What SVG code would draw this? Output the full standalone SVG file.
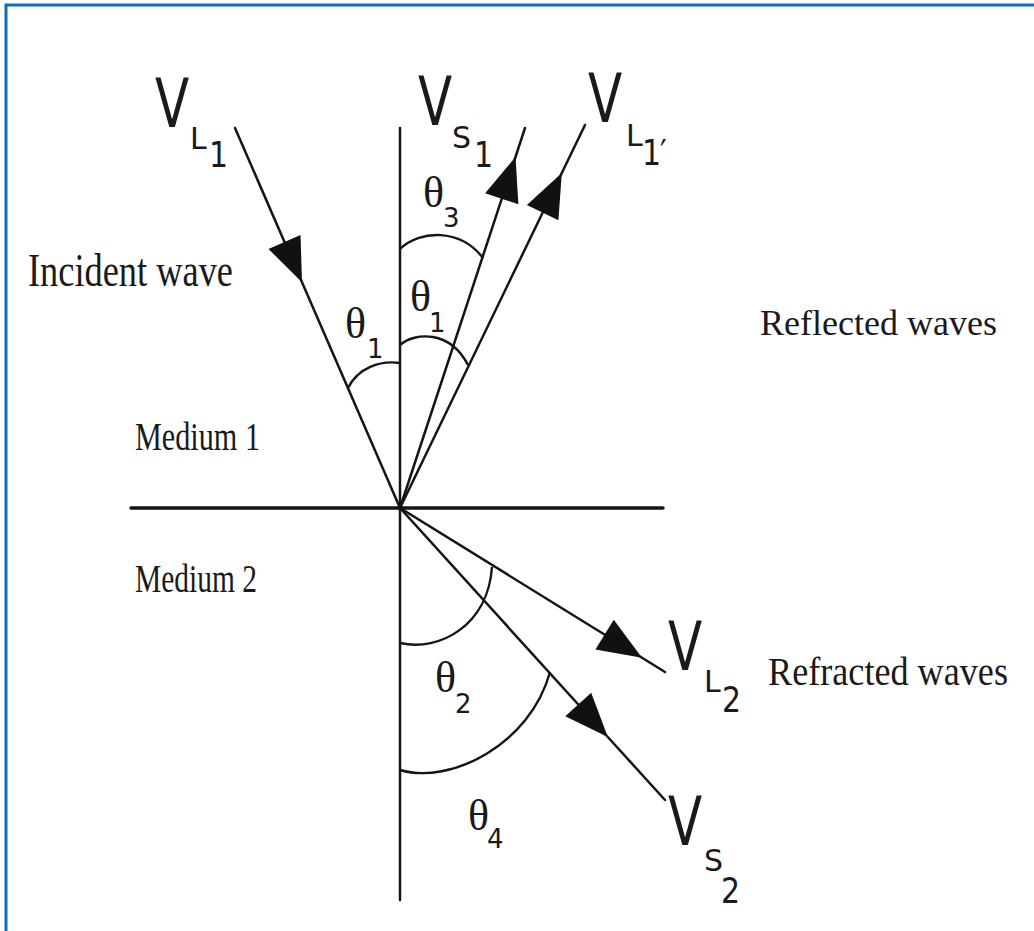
<svg xmlns="http://www.w3.org/2000/svg" width="1034" height="931" viewBox="0 0 1034 931">
<style>
.ln{stroke:#151515;stroke-width:2.5;fill:none;stroke-linecap:round}
.arc{stroke:#151515;stroke-width:2.4;fill:none}
.ser{font-family:"Liberation Serif","Times New Roman",serif;fill:#1a1a1a}
.sans{font-family:"DejaVu Sans","Liberation Sans",sans-serif;fill:#1a1a1a}
.V{font-size:50px}
.sub{font-size:30px}
.dig{font-size:30px}
.th{font-size:44px}
.ths{font-size:26px;font-family:"DejaVu Sans","Liberation Sans",sans-serif}
</style>
<defs>
<marker id="ah" markerUnits="userSpaceOnUse" orient="auto" refX="0" refY="0" markerWidth="48" markerHeight="38" overflow="visible">
<path d="M0,0 L-44,-17.5 L-44,17.5 Z" fill="#111"/>
</marker>
</defs>
<rect x="0" y="0" width="1034" height="931" fill="#fff"/>
<g id="frame">
<path d="M6,931 L6,5 L1034,5" fill="none" stroke="#0b6fbf" stroke-width="3"/>
</g>
<g id="axes">
<line class="ln" x1="131" y1="508" x2="663" y2="508" style="stroke-width:3.5"/>
<line class="ln" x1="400" y1="128" x2="400" y2="900"/>
</g>
<g id="connectors">
<path id="incident" class="ln" d="M235,128 L302,282.3 L400,508" marker-mid="url(#ah)"/>
<path id="ray-vs1" class="ln" d="M400,508 L515.5,157 L525,128" marker-mid="url(#ah)"/>
<path id="ray-vl1p" class="ln" d="M400,508 L561.8,173 L585,125" marker-mid="url(#ah)"/>
<path id="ray-vl2" class="ln" d="M400,508 L642,657.8 L665,672" marker-mid="url(#ah)"/>
<path id="ray-vs2" class="ln" d="M400,508 L607.8,737 L665,800" marker-mid="url(#ah)"/>
</g>
<g id="arcs">
<path class="arc" d="M348,388 C358,368 380,360 400,363"/>
<path class="arc" d="M400,249 C420,230 460,228 483,258"/>
<path class="arc" d="M400,345 C415,332 450,330 468,365"/>
<path class="arc" d="M400,643 C440,652 488,625 492,567"/>
<path class="arc" d="M400,770 C450,785 530,745 550,672"/>
</g>
<g id="label-VL1" class="sans">
<text class="V" transform="translate(155,127) scale(1,1.35)">V</text>
<text class="sub" x="190" y="149">L</text>
<text class="dig" transform="translate(209,167) scale(1,1.2)">1</text>
</g>
<g id="label-VS1" class="sans">
<text class="V" transform="translate(418,125) scale(1,1.35)">V</text>
<text class="sub" x="452" y="148">S</text>
<text class="dig" transform="translate(474,167) scale(1,1.2)">1</text>
</g>
<g id="label-VL1p" class="sans">
<text class="V" transform="translate(588,122) scale(1,1.35)">V</text>
<text class="sub" x="626" y="146">L</text>
<text class="dig" transform="translate(642,165) scale(1,1.2)">1</text>
<text class="dig" transform="translate(660,165) scale(1,1.2)">′</text>
</g>
<g id="label-VL2" class="sans">
<text class="V" transform="translate(668,670) scale(1,1.35)">V</text>
<text class="sub" x="704" y="692">L</text>
<text class="dig" transform="translate(722,712) scale(1,1.2)">2</text>
</g>
<g id="label-VS2" class="sans">
<text class="V" transform="translate(668,845) scale(1,1.35)">V</text>
<text class="sub" x="704" y="871">S</text>
<text class="dig" transform="translate(721,903) scale(1,1.2)">2</text>
</g>
<g id="theta1-left" class="ser">
<text class="th" x="345" y="338">θ</text><text class="ths" x="367" y="358">1</text>
</g>
<g id="theta3" class="ser">
<text class="th" x="423" y="207">θ</text><text class="ths" x="443" y="227">3</text>
</g>
<g id="theta1-right" class="ser">
<text class="th" x="410" y="311">θ</text><text class="ths" x="429" y="332">1</text>
</g>
<g id="theta2" class="ser">
<text class="th" x="435" y="692">θ</text><text class="ths" x="455" y="713">2</text>
</g>
<g id="theta4" class="ser">
<text class="th" x="468" y="830">θ</text><text class="ths" x="487" y="848">4</text>
</g>
<g id="incident-wave" class="ser" transform="translate(28,286) scale(1,1.3)">
<text x="0" y="0" font-size="36" textLength="205" lengthAdjust="spacingAndGlyphs">Incident wave</text>
</g>
<g id="medium1" class="ser" transform="translate(135,450) scale(1,1.35)">
<text x="0" y="0" font-size="30" textLength="125" lengthAdjust="spacingAndGlyphs">Medium 1</text>
</g>
<g id="medium2" class="ser" transform="translate(135,592) scale(1,1.35)">
<text x="0" y="0" font-size="30" textLength="122" lengthAdjust="spacingAndGlyphs">Medium 2</text>
</g>
<g id="reflected" class="ser">
<text x="760" y="335" font-size="36" textLength="237" lengthAdjust="spacingAndGlyphs">Reflected waves</text>
</g>
<g id="refracted" class="ser" transform="translate(768,685) scale(1,1.12)">
<text x="0" y="0" font-size="36" textLength="240" lengthAdjust="spacingAndGlyphs">Refracted waves</text>
</g>
</svg>
